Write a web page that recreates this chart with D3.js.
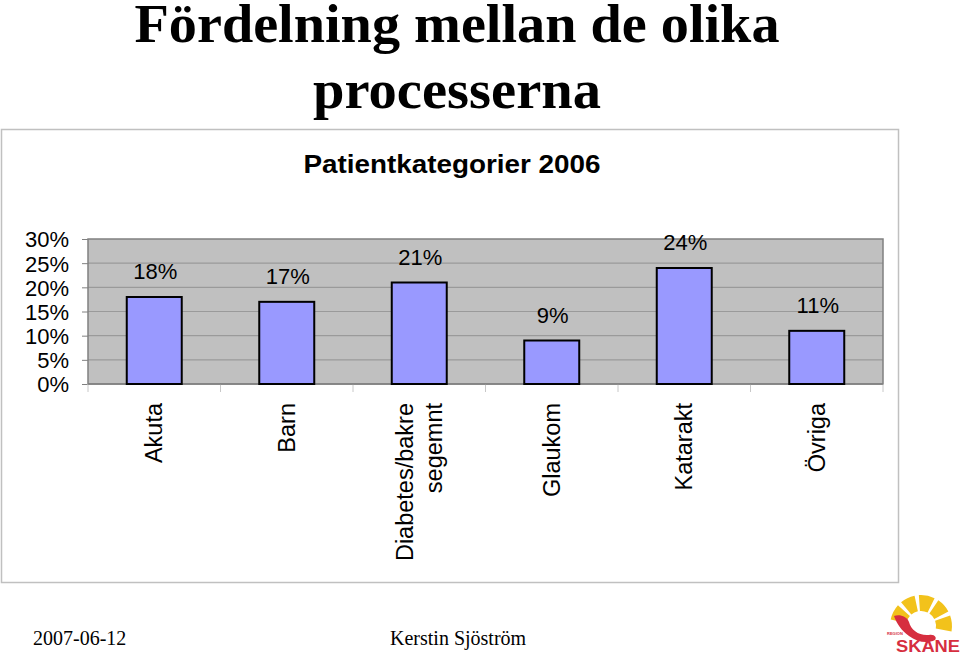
<!DOCTYPE html>
<html><head><meta charset="utf-8">
<script src="https://cdn.jsdelivr.net/npm/d3@7"></script>
<style>html,body{margin:0;padding:0;background:#fff;}svg{display:block;}</style>
</head><body>
<script>
const categories = ["Akuta", "Barn", "Diabetes/bakre segemnt", "Glaukom", "Katarakt", "Övriga"];
const categoryLines = [["Akuta"], ["Barn"], ["Diabetes/bakre", "segemnt"], ["Glaukom"], ["Katarakt"], ["Övriga"]];
const values = [18, 17, 21, 9, 24, 11];
const valueLabels = ["18%", "17%", "21%", "9%", "24%", "11%"];
const yTicks = [0, 5, 10, 15, 20, 25, 30];
const titleLines = ["Fördelning mellan de olika", "processerna"];
const subtitle = "Patientkategorier 2006";
const footerDate = "2007-06-12";
const footerAuthor = "Kerstin Sjöström";

const W = 960, H = 656;
const svg = d3.select("body").append("svg").attr("width", W).attr("height", H);

// Title
svg.append("g").selectAll("text").data(titleLines).join("text")
  .attr("x", 457).attr("y", (d, i) => 42 + i * 66)
  .attr("text-anchor", "middle")
  .attr("font-family", "'Liberation Serif','Times New Roman',serif")
  .attr("font-weight", "bold").attr("font-size", 55).attr("fill", "#000")
  .attr("textLength", (d, i) => i === 0 ? 645 : 288).attr("lengthAdjust", "spacingAndGlyphs")
  .text(d => d);

// Chart frame
svg.append("rect").attr("x", 1.5).attr("y", 129.5).attr("width", 897).attr("height", 453)
  .attr("fill", "#fff").attr("stroke", "#c0c0c0").attr("stroke-width", 1.5);

svg.append("text").attr("x", 452).attr("y", 173).attr("text-anchor", "middle")
  .attr("font-family", "'Liberation Sans',Arial,sans-serif").attr("font-weight", "bold")
  .attr("font-size", 25).attr("textLength", 297).attr("lengthAdjust", "spacingAndGlyphs")
  .text(subtitle);

const plot = {x0: 88, x1: 883, y0: 239, y1: 384};
const x = d3.scaleBand().domain(categories).range([plot.x0, plot.x1]).padding(0);
const y = d3.scaleLinear().domain([0, 30]).range([plot.y1, plot.y0]);

// plot background
svg.append("rect").attr("x", plot.x0).attr("y", plot.y0)
  .attr("width", plot.x1 - plot.x0).attr("height", plot.y1 - plot.y0).attr("fill", "#c0c0c0");

// gridlines
svg.append("g").selectAll("line").data(yTicks.filter(t => t > 0 && t < 30)).join("line")
  .attr("x1", plot.x0).attr("x2", plot.x1).attr("y1", d => y(d)).attr("y2", d => y(d))
  .attr("stroke", "#9a9a9a").attr("stroke-width", 1.2);

// plot border
svg.append("rect").attr("x", plot.x0).attr("y", plot.y0)
  .attr("width", plot.x1 - plot.x0).attr("height", plot.y1 - plot.y0)
  .attr("fill", "none").attr("stroke", "#808080").attr("stroke-width", 1.5);

// y axis
const yAxis = d3.axisLeft(y).tickValues(yTicks).tickFormat(d => d + "%").tickSize(6).tickPadding(13);
const gy = svg.append("g").attr("transform", `translate(${plot.x0},0)`).call(yAxis);
gy.select(".domain").remove();
gy.selectAll(".tick line").attr("stroke", "#808080");
gy.selectAll(".tick text").attr("font-family", "'Liberation Sans',Arial,sans-serif")
  .attr("font-size", 22).attr("fill", "#000").attr("dy", "0.36em");

// x category boundary ticks
const bounds = categories.map(c => x(c)).concat([plot.x1]);
svg.append("g").selectAll("line").data(bounds).join("line")
  .attr("x1", d => d).attr("x2", d => d).attr("y1", plot.y1).attr("y2", plot.y1 + 8)
  .attr("stroke", "#c8c8c8").attr("stroke-width", 1);
svg.append("line").attr("x1", plot.x0).attr("x2", plot.x1).attr("y1", plot.y1).attr("y2", plot.y1)
  .attr("stroke", "#808080").attr("stroke-width", 1.5);

// bars
const bw = x.bandwidth() * 0.415;
svg.append("g").selectAll("rect").data(values).join("rect")
  .attr("x", (d, i) => x(categories[i]) + x.bandwidth() / 2 - bw / 2)
  .attr("y", d => y(d)).attr("width", bw).attr("height", d => y(0) - y(d))
  .attr("fill", "#9999ff").attr("stroke", "#000").attr("stroke-width", 2);

// value labels
svg.append("g").selectAll("text").data(values).join("text")
  .attr("x", (d, i) => x(categories[i]) + x.bandwidth() / 2 + 1)
  .attr("y", d => y(d) - 18).attr("text-anchor", "middle")
  .attr("font-family", "'Liberation Sans',Arial,sans-serif").attr("font-size", 22)
  .text((d, i) => valueLabels[i]);

// category labels (rotated)
const catG = svg.append("g").selectAll("g").data(categories).join("g")
  .attr("transform", (d) => `translate(${x(d) + x.bandwidth() / 2},403) rotate(-90)`);
catG.each(function(d, i) {
  const lines = categoryLines[i];
  const n = lines.length;
  d3.select(this).selectAll("text").data(lines).join("text")
    .attr("x", 0).attr("y", (l, j) => (j - (n - 1) / 2) * 29)
    .attr("text-anchor", "end").attr("dominant-baseline", "central")
    .attr("font-family", "'Liberation Sans',Arial,sans-serif").attr("font-size", 23.5)
    .text(l => l);
});

// footer
svg.append("text").attr("x", 33).attr("y", 645)
  .attr("font-family", "'Liberation Serif','Times New Roman',serif").attr("font-size", 20).text(footerDate);
svg.append("text").attr("x", 390).attr("y", 645)
  .attr("font-family", "'Liberation Serif','Times New Roman',serif").attr("font-size", 20).text(footerAuthor);

// logo (Region Skåne)
const logo = svg.append("g").attr("transform", "translate(921,626)");
const rayAngles = [[-78, -48], [-40, -12], [-4, 26], [34, 62], [70, 100]];
const arc = d3.arc();
logo.selectAll("path.ray").data(rayAngles).join("path").attr("class", "ray")
  .attr("d", d => arc({innerRadius: 15, outerRadius: 31, startAngle: d[0] * Math.PI / 180, endAngle: d[1] * Math.PI / 180}))
  .attr("fill", "#f2c21b");
logo.append("path")
  .attr("d", "M-27,-10 C-22,-12 -14,-10 -12,-4 C-10,4 -2,10 8,9 C14,8 16,12 14,14 C6,18 -4,16 -12,10 C-20,4 -24,-2 -27,-10 Z")
  .attr("fill", "#d62e3f");
logo.append("text").attr("x", 7).attr("y", 26).attr("text-anchor", "middle")
  .attr("font-family", "'Liberation Sans',Arial,sans-serif").attr("font-weight", "bold")
  .attr("font-size", 16).attr("fill", "#d62e3f").attr("textLength", 64).attr("lengthAdjust", "spacingAndGlyphs")
  .text("SKÅNE");
logo.append("text").attr("x", -34).attr("y", 9)
  .attr("font-family", "'Liberation Sans',Arial,sans-serif").attr("font-weight", "bold")
  .attr("font-size", 4).attr("fill", "#d62e3f").text("REGION");
</script>
</body></html>
